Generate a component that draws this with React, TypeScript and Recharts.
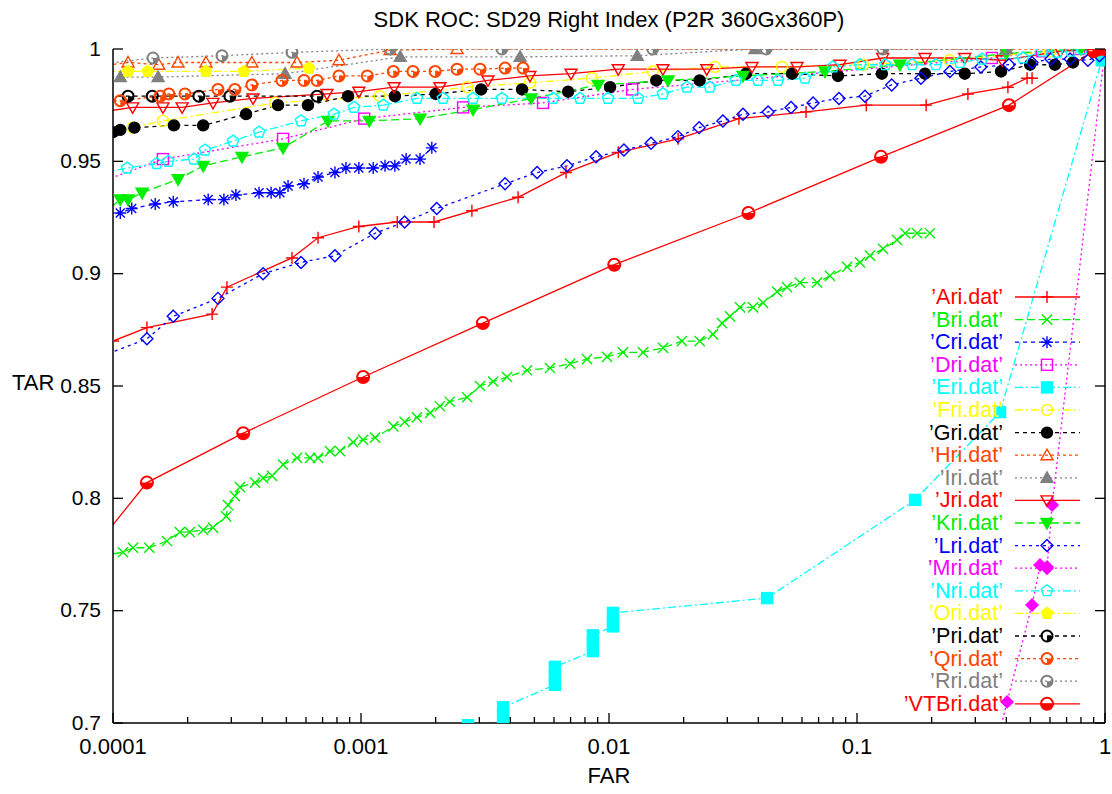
import React from "react";
import { LineChart, Line, XAxis, YAxis, Legend } from "recharts";

type Pt = [number, number]; // [FAR, TAR]

const FONT = "'Liberation Sans', Arial, Helvetica, sans-serif";

// axis ticks
const xMajor = [0.0001, 0.001, 0.01, 0.1, 1];
const xMajorLabels = ["0.0001", "0.001", "0.01", "0.1", "1"];
const xMinorMult = [2, 3, 4, 5, 6, 7, 8, 9];
const yTicks = [0.7, 0.75, 0.8, 0.85, 0.9, 0.95, 1];
const yTickLabels = ["0.7", "0.75", "0.8", "0.85", "0.9", "0.95", "1"];

// series values
const ari: Pt[] = [
  [1e-4, 0.87], [1.37e-4, 0.876], [2.51e-4, 0.882], [2.88e-4, 0.894], [5.27e-4, 0.907],
  [6.71e-4, 0.916], [9.8e-4, 0.921], [1.4e-3, 0.923], [1.97e-3, 0.923], [2.8e-3, 0.928],
  [4.3e-3, 0.934], [6.71e-3, 0.945], [0.0109, 0.954], [0.019, 0.96], [0.0334, 0.969],
  [0.0623, 0.972], [0.109, 0.975], [0.19, 0.975], [0.28, 0.98], [0.406, 0.983],
  [0.485, 0.987], [0.508, 0.987],
];
const bri: Pt[] = [
  [9e-5, 0.7745], [1.097e-4, 0.776], [1.204e-4, 0.778], [1.4e-4, 0.778], [1.65e-4, 0.781],
  [1.86e-4, 0.785], [2.04e-4, 0.785], [2.31e-4, 0.786], [2.53e-4, 0.787], [2.86e-4, 0.792],
  [2.91e-4, 0.797], [3.1e-4, 0.801], [3.25e-4, 0.805], [3.74e-4, 0.807], [4.03e-4, 0.809],
  [4.38e-4, 0.81], [4.85e-4, 0.815], [5.52e-4, 0.818], [6.23e-4, 0.818], [6.71e-4, 0.818],
  [7.5e-4, 0.821], [8.23e-4, 0.821], [9.29e-4, 0.825], [1.02e-3, 0.826], [1.14e-3, 0.827],
  [1.35e-3, 0.832], [1.5e-3, 0.834], [1.68e-3, 0.836], [1.9e-3, 0.838], [2.08e-3, 0.841],
  [2.28e-3, 0.843], [2.68e-3, 0.845], [3.02e-3, 0.85], [3.41e-3, 0.852], [3.88e-3, 0.854],
  [4.67e-3, 0.857], [5.78e-3, 0.858], [6.97e-3, 0.86], [8.15e-3, 0.862], [9.82e-3, 0.863],
  [0.01138, 0.865], [0.01371, 0.865], [0.01652, 0.867], [0.01968, 0.87], [0.0232, 0.87],
  [0.02626, 0.873], [0.02856, 0.878], [0.03076, 0.881], [0.03376, 0.885], [0.0381, 0.885],
  [0.0418, 0.887], [0.0476, 0.892], [0.0522, 0.894], [0.0589, 0.896], [0.069, 0.896],
  [0.0778, 0.899], [0.0912, 0.903], [0.1028, 0.905], [0.1128, 0.908], [0.1274, 0.911],
  [0.1449, 0.915], [0.1563, 0.918], [0.1746, 0.918], [0.1968, 0.918],
];
const cri: Pt[] = [
  [9e-5, 0.927], [1.07e-4, 0.927], [1.19e-4, 0.929], [1.48e-4, 0.931], [1.75e-4, 0.932],
  [2.42e-4, 0.933], [2.8e-4, 0.933], [3.13e-4, 0.935], [3.88e-4, 0.936], [4.34e-4, 0.936],
  [4.71e-4, 0.936], [5.08e-4, 0.939], [5.89e-4, 0.94], [6.71e-4, 0.943], [7.85e-4, 0.945],
  [8.7e-4, 0.947], [9.8e-4, 0.947], [1.12e-3, 0.947], [1.25e-3, 0.948], [1.37e-3, 0.948],
  [1.52e-3, 0.951], [1.73e-3, 0.951], [1.93e-3, 0.956],
];
const dri: Pt[] = [
  [9e-5, 0.941], [1.59e-4, 0.951], [4.85e-4, 0.96], [1.03e-3, 0.969], [2.58e-3, 0.974],
  [5.42e-3, 0.976], [0.0124, 0.982], [0.35, 0.996], [0.557, 0.999], [0.786, 1.0],
];
const eri: Pt[] = [
  [2.7e-3, 0.699], [3.74e-3, 0.7005], [3.74e-3, 0.704], [3.74e-3, 0.707], [6.05e-3, 0.717],
  [6.05e-3, 0.721], [6.05e-3, 0.725], [8.61e-3, 0.732], [8.61e-3, 0.736], [8.61e-3, 0.739],
  [0.01038, 0.743], [0.01038, 0.746], [0.01038, 0.749], [0.0434, 0.7556], [0.1714, 0.7993],
  [0.3775, 0.8384], [0.97, 0.995], [1.0, 1.0],
];
const fri: Pt[] = [
  [1.2e-4, 0.965], [1.59e-4, 0.968], [4.5e-4, 0.976], [1.19e-3, 0.979], [2.68e-3, 0.983],
  [4.8e-3, 0.985], [8.54e-3, 0.987], [0.015, 0.99], [0.0267, 0.992], [0.0498, 0.992],
  [0.106, 0.993], [0.236, 0.995], [0.6, 0.999], [0.95, 1.0],
];
const gri: Pt[] = [
  [1e-4, 0.963], [1.07e-4, 0.964], [1.22e-4, 0.965], [1.76e-4, 0.966], [2.31e-4, 0.966],
  [3.44e-4, 0.971], [4.63e-4, 0.975], [6.11e-4, 0.975], [8.87e-4, 0.979], [1.37e-3, 0.979],
  [2.0e-3, 0.98], [3.05e-3, 0.982], [4.46e-3, 0.982], [6.84e-3, 0.981], [0.0101, 0.983],
  [0.0155, 0.986], [0.0232, 0.986], [0.0357, 0.989], [0.0547, 0.989], [0.0838, 0.988],
  [0.126, 0.989], [0.188, 0.989], [0.272, 0.989], [0.381, 0.99], [0.499, 0.993],
  [0.628, 0.993], [0.743, 0.994], [0.95, 1.0],
];
const hri: Pt[] = [
  [9e-5, 0.9925], [1.15e-4, 0.994], [1.53e-4, 0.993], [1.83e-4, 0.994], [2.37e-4, 0.994],
  [3.63e-4, 0.994], [5.52e-4, 0.994], [8.15e-4, 0.995], [1.31e-3, 0.9995], [2.44e-3, 1.0],
  [1.0, 1.0],
];
const iri: Pt[] = [
  [9e-5, 0.9875], [1.07e-4, 0.9875], [1.52e-4, 0.9875], [4.94e-4, 0.989], [1.44e-3, 0.9965],
  [4.38e-3, 0.9965], [0.013, 0.997], [0.0388, 1.0], [0.4, 1.0],
];
const jri: Pt[] = [
  [9e-5, 0.972], [1.2e-4, 0.974], [1.59e-4, 0.974], [1.9e-4, 0.974], [2.53e-4, 0.976],
  [3.67e-4, 0.978], [7.29e-4, 0.98], [9.8e-4, 0.981], [1.36e-3, 0.983], [2.08e-3, 0.983],
  [3.25e-3, 0.986], [4.8e-3, 0.988], [7.03e-3, 0.989], [0.0109, 0.991], [0.0165, 0.991],
  [0.0248, 0.991], [0.0377, 0.992], [0.0573, 0.992], [0.0854, 0.993], [0.127, 0.996],
  [0.188, 0.996], [0.272, 0.996], [0.385, 0.995], [0.66, 0.999], [0.95, 1.0],
];
const kri: Pt[] = [
  [9e-5, 0.926], [1.07e-4, 0.933], [1.15e-4, 0.933], [1.31e-4, 0.936], [1.83e-4, 0.942],
  [2.31e-4, 0.948], [3.31e-4, 0.952], [4.85e-4, 0.956], [7.36e-4, 0.968], [1.08e-3, 0.968],
  [1.73e-3, 0.969], [2.83e-3, 0.973], [4.85e-3, 0.978], [9.04e-3, 0.984], [0.0173, 0.986],
  [0.0347, 0.988], [0.0743, 0.99], [0.149, 0.993], [0.4, 0.998], [0.8, 1.0],
];
const lri: Pt[] = [
  [9e-5, 0.8633], [1.37e-4, 0.871], [1.75e-4, 0.881], [2.65e-4, 0.889], [4.03e-4, 0.9],
  [5.73e-4, 0.905], [7.85e-4, 0.908], [1.14e-3, 0.918], [1.5e-3, 0.923], [2.02e-3, 0.929],
  [3.81e-3, 0.94], [5.13e-3, 0.945], [6.77e-3, 0.948], [8.87e-3, 0.952], [0.01149, 0.955],
  [0.01477, 0.958], [0.01897, 0.961], [0.0231, 0.965], [0.0288, 0.968], [0.0347, 0.971],
  [0.0438, 0.972], [0.0542, 0.974], [0.0665, 0.976], [0.0846, 0.978], [0.1077, 0.979],
  [0.138, 0.984], [0.181, 0.987], [0.237, 0.99], [0.316, 0.992], [0.41, 0.993],
  [0.508, 0.994], [0.605, 0.9955], [0.723, 0.9955], [0.853, 0.995], [0.95, 0.997],
];
const mri: Pt[] = [
  [0.374, 0.695], [0.403, 0.7094], [0.508, 0.7525], [0.547, 0.7703], [0.584, 0.7694],
  [0.612, 0.797], [1.0, 1.0],
];
const nri: Pt[] = [
  [9e-5, 0.945], [1.14e-4, 0.947], [1.5e-4, 0.949], [1.67e-4, 0.95], [2.12e-4, 0.951],
  [2.35e-4, 0.955], [3.05e-4, 0.959], [3.88e-4, 0.963], [5.73e-4, 0.968], [7.78e-4, 0.971],
  [9.37e-4, 0.974], [1.23e-3, 0.975], [1.68e-3, 0.978], [2.14e-3, 0.978], [2.83e-3, 0.978],
  [3.7e-3, 0.978], [5.95e-3, 0.978], [7.64e-3, 0.978], [9.91e-3, 0.978], [0.0131, 0.978],
  [0.0165, 0.98], [0.0206, 0.983], [0.0255, 0.983], [0.0325, 0.986], [0.0399, 0.986],
  [0.048, 0.986], [0.0617, 0.987], [0.08, 0.992], [0.103, 0.993], [0.13, 0.993],
  [0.167, 0.993], [0.208, 0.993], [0.26, 0.994], [0.319, 0.9955], [0.467, 0.996],
  [0.56, 0.999], [0.64, 0.9985], [0.73, 0.999], [0.81, 1.0],
];
const ori: Pt[] = [
  [9e-5, 0.99], [1.15e-4, 0.99], [1.38e-4, 0.99], [2.37e-4, 0.99], [3.37e-4, 0.99],
  [6.17e-4, 0.9915],
];
const pri: Pt[] = [
  [9e-5, 0.979], [1.15e-4, 0.979], [1.44e-4, 0.979], [2.22e-4, 0.979], [2.96e-4, 0.979],
  [6.65e-4, 0.979],
];
const qri: Pt[] = [
  [9e-5, 0.977], [1.07e-4, 0.977], [1.55e-4, 0.979], [1.68e-4, 0.98], [1.95e-4, 0.98],
  [2.65e-4, 0.982], [3.1e-4, 0.982], [3.63e-4, 0.984], [4.8e-4, 0.986], [5.89e-4, 0.986],
  [6.65e-4, 0.986], [8.15e-4, 0.988], [1.06e-3, 0.988], [1.35e-3, 0.99], [1.62e-3, 0.99],
  [1.99e-3, 0.99], [2.44e-3, 0.991], [3.02e-3, 0.991], [3.81e-3, 0.9915], [4.5e-3, 0.9915],
];
const rri: Pt[] = [
  [9e-5, 0.9933], [1.45e-4, 0.996], [2.75e-4, 0.997], [5.27e-4, 0.9985], [1.31e-3, 1.0],
  [3.7e-3, 1.0], [0.015, 1.0], [0.043, 1.0], [0.127, 1.0], [0.4, 1.0],
];
const vtbri: Pt[] = [
  [9e-5, 0.782], [1.37e-4, 0.807], [3.35e-4, 0.829], [1.02e-3, 0.854], [3.1e-3, 0.878],
  [0.0105, 0.904], [0.0365, 0.927], [0.125, 0.952], [0.41, 0.975], [0.9, 0.999],
  [0.95, 1.0], [1.0, 1.0],
];

type Kind =
  | "plus" | "cross" | "star" | "sq" | "sqF" | "circ" | "circF" | "tri" | "triF"
  | "triD" | "triDF" | "dia" | "diaF" | "pent" | "pentF" | "clock" | "half";

interface SeriesDef {
  label: string;
  pts: Pt[];
  color: string;
  dash?: string;
  marker: Kind;
}

const RED = "#ff0000";
const GREEN = "#00ee00";
const BLUE = "#0000ff";
const MAGENTA = "#ff00ff";
const CYAN = "#00ffff";
const YELLOW = "#ffff00";
const BLACK = "#000000";
const ORANGE = "#ff4500";
const GRAY = "#808080";

const SERIES: SeriesDef[] = [
  { label: "’Ari.dat’", pts: ari, color: RED, marker: "plus" },
  { label: "’Bri.dat’", pts: bri, color: GREEN, dash: "8 4", marker: "cross" },
  { label: "’Cri.dat’", pts: cri, color: BLUE, dash: "4 4", marker: "star" },
  { label: "’Dri.dat’", pts: dri, color: MAGENTA, dash: "2 3", marker: "sq" },
  { label: "’Eri.dat’", pts: eri, color: CYAN, dash: "8 3 2 3", marker: "sqF" },
  { label: "’Fri.dat’", pts: fri, color: YELLOW, dash: "8 3 2 3", marker: "circ" },
  { label: "’Gri.dat’", pts: gri, color: BLACK, dash: "4 4", marker: "circF" },
  { label: "’Hri.dat’", pts: hri, color: ORANGE, dash: "3 3", marker: "tri" },
  { label: "’Iri.dat’", pts: iri, color: GRAY, dash: "2 3", marker: "triF" },
  { label: "’Jri.dat’", pts: jri, color: RED, marker: "triD" },
  { label: "’Kri.dat’", pts: kri, color: GREEN, dash: "8 4", marker: "triDF" },
  { label: "’Lri.dat’", pts: lri, color: BLUE, dash: "3 4", marker: "dia" },
  { label: "’Mri.dat’", pts: mri, color: MAGENTA, dash: "2 3", marker: "diaF" },
  { label: "’Nri.dat’", pts: nri, color: CYAN, dash: "8 3 2 3", marker: "pent" },
  { label: "’Ori.dat’", pts: ori, color: YELLOW, dash: "8 3 2 3", marker: "pentF" },
  { label: "’Pri.dat’", pts: pri, color: BLACK, dash: "4 4", marker: "clock" },
  { label: "’Qri.dat’", pts: qri, color: ORANGE, dash: "3 3", marker: "clock" },
  { label: "’Rri.dat’", pts: rri, color: GRAY, dash: "2 3", marker: "clock" },
  { label: "’VTBri.dat’", pts: vtbri, color: RED, marker: "half" },
];

const xMinor: number[] = [];
xMajor.slice(0, 4).forEach((d) => xMinorMult.forEach((m) => xMinor.push(d * m)));
const xTicks = [...xMajor, ...xMinor].sort((a, b) => a - b);

function majorIndex(v: number) {
  return xMajor.findIndex((m) => Math.abs(v - m) / m < 1e-6);
}

function poly(pts: number[][]) {
  return pts.map((p) => p.join(",")).join(" ");
}

function Marker({ kind, cx, cy, color }: { kind: Kind; cx: number; cy: number; color: string }) {
  const s = 6;
  const sw = 1.4;
  const f = kind.endsWith("F");
  const fill = f ? color : "none";
  switch (kind) {
    case "plus":
      return <path d={`M${cx - s},${cy}H${cx + s}M${cx},${cy - s}V${cy + s}`} stroke={color} strokeWidth={sw} />;
    case "cross": {
      const c = s * 0.85;
      return <path d={`M${cx - c},${cy - c}L${cx + c},${cy + c}M${cx - c},${cy + c}L${cx + c},${cy - c}`} stroke={color} strokeWidth={sw} />;
    }
    case "star": {
      const c = s * 0.75;
      return (
        <path
          d={`M${cx - s},${cy}H${cx + s}M${cx},${cy - s}V${cy + s}M${cx - c},${cy - c}L${cx + c},${cy + c}M${cx - c},${cy + c}L${cx + c},${cy - c}`}
          stroke={color}
          strokeWidth={sw}
        />
      );
    }
    case "sq":
    case "sqF":
      return <rect x={cx - 5.5} y={cy - 5.5} width={11} height={11} fill={fill} stroke={color} strokeWidth={sw} />;
    case "circ":
    case "circF":
      return <circle cx={cx} cy={cy} r={5.5} fill={fill} stroke={color} strokeWidth={sw} />;
    case "tri":
    case "triF":
      return <polygon points={poly([[cx, cy - s], [cx + s, cy + s * 0.75], [cx - s, cy + s * 0.75]])} fill={fill} stroke={color} strokeWidth={sw} />;
    case "triD":
    case "triDF":
      return <polygon points={poly([[cx, cy + s], [cx + s, cy - s * 0.75], [cx - s, cy - s * 0.75]])} fill={fill} stroke={color} strokeWidth={sw} />;
    case "dia":
    case "diaF":
      return <polygon points={poly([[cx, cy - s], [cx + s, cy], [cx, cy + s], [cx - s, cy]])} fill={fill} stroke={color} strokeWidth={sw} />;
    case "pent":
    case "pentF": {
      const p = [0, 1, 2, 3, 4].map((i) => {
        const a = ((-90 + 72 * i) * Math.PI) / 180;
        return [cx + s * Math.cos(a), cy + s * Math.sin(a)];
      });
      return <polygon points={poly(p)} fill={fill} stroke={color} strokeWidth={sw} />;
    }
    case "clock": {
      const r = 5.5;
      return (
        <g>
          <circle cx={cx} cy={cy} r={r} fill="none" stroke={color} strokeWidth={2} />
          <path d={`M${cx},${cy}L${cx + r},${cy}A${r},${r} 0 0 1 ${cx},${cy + r}Z`} fill={color} />
        </g>
      );
    }
    case "half": {
      const r = 6;
      return (
        <g>
          <circle cx={cx} cy={cy} r={r} fill="none" stroke={color} strokeWidth={2} />
          <path d={`M${cx - r},${cy}A${r},${r} 0 0 0 ${cx + r},${cy}Z`} fill={color} />
        </g>
      );
    }
  }
  return null;
}

const XTick = (props: any) => {
  const { x, y, payload, top } = props;
  const mi = majorIndex(payload.value);
  const len = mi >= 0 ? 10 : 6;
  return (
    <g>
      <line x1={x} x2={x} y1={y} y2={top ? y + len : y - len} stroke="#000" strokeWidth={1.3} />
      {!top && mi >= 0 && (
        <text x={x} y={y + 23} textAnchor="middle" dominantBaseline="central" fontSize={22} fill="#000" style={{ fontFamily: FONT }}>
          {xMajorLabels[mi]}
        </text>
      )}
    </g>
  );
};

const YTick = (props: any) => {
  const { x, y, payload, right } = props;
  const i = yTicks.findIndex((t) => Math.abs(t - payload.value) < 1e-9);
  return (
    <g>
      <line x1={x} x2={right ? x - 10 : x + 10} y1={y} y2={y} stroke="#000" strokeWidth={1.3} />
      {!right && (
        <text x={x - 12} y={y - 1} textAnchor="end" dominantBaseline="central" fontSize={21} fill="#000" style={{ fontFamily: FONT }}>
          {yTickLabels[i]}
        </text>
      )}
    </g>
  );
};

const renderLegend = () => (
  <svg width={230} height={430} style={{ overflow: "visible" }}>
    {SERIES.map((s, i) => {
      const y = 10 + i * 22.6;
      return (
        <g key={s.label}>
          <text x={125} y={y} textAnchor="end" dominantBaseline="central" fontSize={21.5} fill={s.color} style={{ fontFamily: FONT }}>
            {s.label}
          </text>
          <line x1={137} x2={202} y1={y} y2={y} stroke={s.color} strokeWidth={1.3} strokeDasharray={s.dash} />
          <Marker kind={s.marker} cx={169} cy={y} color={s.color} />
        </g>
      );
    })}
  </svg>
);

export default function App() {
  return (
    <div style={{ position: "absolute", left: 0, top: 0, width: 1112, height: 794, background: "#fff", fontFamily: FONT }}>
      <div style={{ position: "absolute", left: 0, width: 1218, top: 7, textAlign: "center", fontSize: 22, lineHeight: "26px" }}>
        SDK ROC: SD29 Right Index (P2R 360Gx360P)
      </div>
      <div style={{ position: "absolute", left: 0, width: 1218, top: 763, textAlign: "center", fontSize: 22, lineHeight: "26px" }}>
        FAR
      </div>
      <div style={{ position: "absolute", left: 12, top: 370, fontSize: 22, lineHeight: "26px" }}>TAR</div>
      <LineChart width={1112} height={794} margin={{ top: 49, right: 0, bottom: 0, left: 0 }}>
        <XAxis
          xAxisId={0}
          dataKey="far"
          type="number"
          scale="log"
          domain={[1e-4, 1]}
          allowDataOverflow
          ticks={xTicks}
          interval={0}
          height={71}
          tickSize={0}
          tickMargin={0}
          tickLine={false}
          axisLine={{ stroke: "#000", strokeWidth: 1.5 }}
          tick={<XTick />}
        />
        <XAxis
          xAxisId="top"
          orientation="top"
          dataKey="far"
          type="number"
          scale="log"
          domain={[1e-4, 1]}
          allowDataOverflow
          ticks={xTicks}
          interval={0}
          height={0}
          tickSize={0}
          tickMargin={0}
          tickLine={false}
          axisLine={{ stroke: "#000", strokeWidth: 1.5 }}
          tick={<XTick top />}
        />
        <YAxis
          yAxisId={0}
          type="number"
          domain={[0.7, 1]}
          allowDataOverflow
          ticks={yTicks}
          interval={0}
          width={113}
          tickSize={0}
          tickMargin={0}
          tickLine={false}
          axisLine={{ stroke: "#000", strokeWidth: 1.5 }}
          tick={<YTick />}
        />
        <YAxis
          yAxisId="right"
          orientation="right"
          type="number"
          domain={[0.7, 1]}
          allowDataOverflow
          ticks={yTicks}
          interval={0}
          width={7}
          tickSize={0}
          tickMargin={0}
          tickLine={false}
          axisLine={{ stroke: "#000", strokeWidth: 1.5 }}
          tick={<YTick right />}
        />
        {SERIES.map((s) => (
          <Line
            key={s.label}
            name={s.label}
            data={s.pts.map(([far, tar]) => ({ far, tar }))}
            dataKey="tar"
            type="linear"
            stroke={s.color}
            strokeWidth={1.3}
            strokeDasharray={s.dash}
            isAnimationActive={false}
            activeDot={false}
            legendType="none"
            dot={(p: any) =>
              p.cx == null || p.cy == null ? (
                <g key={`${s.label}-${p.index}`} />
              ) : (
                <Marker key={`${s.label}-${p.index}`} kind={s.marker} cx={p.cx} cy={p.cy} color={s.color} />
              )
            }
          />
        ))}
        <Legend
          layout="vertical"
          align="center"
          verticalAlign="middle"
          content={renderLegend}
          wrapperStyle={{ left: 878, top: 287, width: 230, height: 430 }}
        />
      </LineChart>
    </div>
  );
}
